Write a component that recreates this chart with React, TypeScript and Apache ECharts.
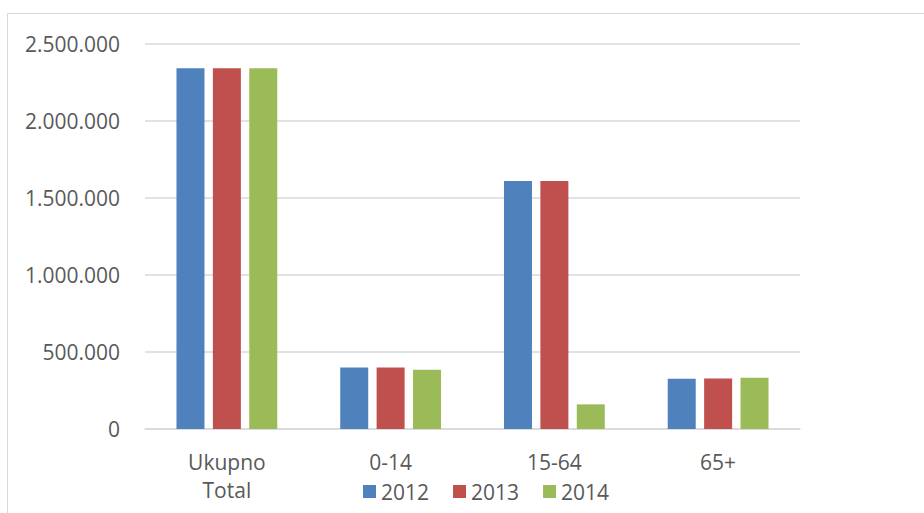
import React, { useEffect, useRef } from "react";
import * as echarts from "echarts";

const categories = ["Ukupno\nTotal", "0-14", "15-64", "65+"];
const years = ["2012", "2013", "2014"];
const values2012 = [2342000, 399000, 1610000, 327000];
const values2013 = [2342000, 399000, 1610000, 328000];
const values2014 = [2342000, 385000, 160000, 333000];
const colors = ["#4f81bd", "#c0504d", "#9bbb59"];

const fmt = (v: number) => String(v).replace(/\B(?=(\d{3})+(?!\d))/g, ".");

export default function App() {
  const ref = useRef<HTMLDivElement>(null);
  useEffect(() => {
    if (!ref.current) return;
    const chart = echarts.init(ref.current, undefined, { renderer: "svg" });
    const font = "'Open Sans', sans-serif";
    const seriesData = [values2012, values2013, values2014];
    chart.setOption({
      animation: false,
      backgroundColor: "#ffffff",
      textStyle: { fontFamily: font },
      grid: { left: 145, right: 124, top: 44, bottom: 84 },
      legend: {
        left: 358,
        top: 476,
        itemWidth: 13,
        itemHeight: 13,
        itemGap: 24,
        icon: "rect",
        textStyle: { fontFamily: font, fontSize: 21, color: "#595959", padding: [0, 0, 0, 0] },
        data: years,
      },
      graphic: [
        {
          type: "rect",
          shape: { x: 7.5, y: 13.5, width: 940, height: 520 },
          style: { fill: "none", stroke: "#d9d9d9", lineWidth: 1 },
          silent: true,
        },
      ],
      xAxis: {
        type: "category",
        data: categories,
        axisLine: { lineStyle: { color: "#d9d9d9", width: 1.5 } },
        axisTick: { show: false },
        axisLabel: {
          fontFamily: font,
          fontSize: 21,
          color: "#595959",
          margin: 19,
          lineHeight: 28,
          interval: 0,
        },
      },
      yAxis: {
        type: "value",
        min: 0,
        max: 2500000,
        interval: 500000,
        axisLine: { show: false },
        axisTick: { show: false },
        splitLine: { lineStyle: { color: "#d9d9d9", width: 1.5 } },
        axisLabel: {
          fontFamily: font,
          fontSize: 21,
          color: "#595959",
          margin: 25,
          formatter: (v: number) => fmt(v),
        },
      },
      series: years.map((y, i) => ({
        name: y,
        type: "bar",
        data: seriesData[i],
        barWidth: 28,
        barGap: "30%",
        itemStyle: { color: colors[i] },
      })),
    });
    return () => chart.dispose();
  }, []);
  return (
    <div
      ref={ref}
      style={{ position: "absolute", left: 0, top: 0, width: 924, height: 513 }}
    />
  );
}
